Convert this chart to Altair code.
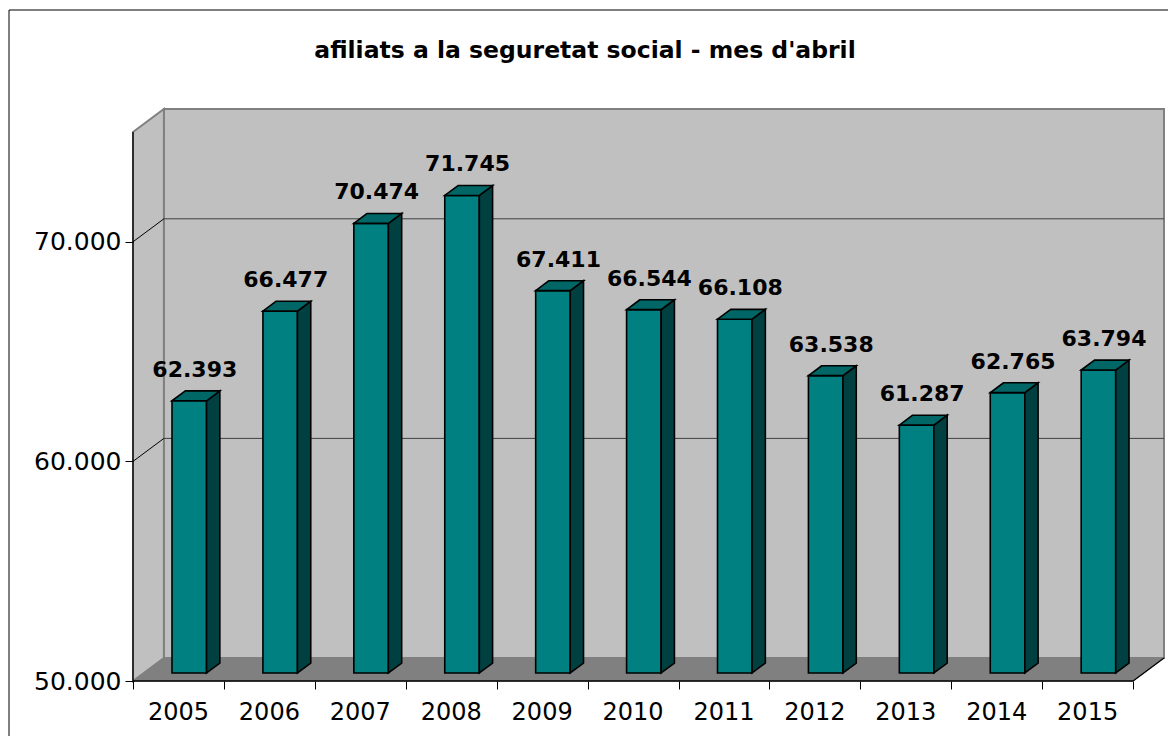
import altair as alt
import pandas as pd

# ---------------- data ----------------
years = ["2005", "2006", "2007", "2008", "2009", "2010", "2011", "2012", "2013", "2014", "2015"]
values = [62393, 66477, 70474, 71745, 67411, 66544, 66108, 63538, 61287, 62765, 63794]
y_tick_values = [50000, 60000, 70000]
grid_values = [60000, 70000]
title_text = "afiliats a la seguretat social - mes d'abril"

# ---------------- style / geometry constants ----------------
Y_MIN, Y_MAX = 50000, 75000
N = len(years)
DX, DY = 0.34, 1048          # depth of the 3-D box (category units, value units)
F, B = 0.35, 0.78            # depth fraction of bar front / back
HALF = 0.19                  # half bar width (category units)
FONT = "DejaVu Sans"

X_SCALE = alt.Scale(domain=[0, N + DX], nice=False, zero=False)
Y_SCALE = alt.Scale(domain=[Y_MIN, Y_MAX + DY], nice=False, zero=False)

bars = pd.DataFrame({"year": years, "value": values, "i": list(range(N))})

side_rows, top_rows = [], []
for yr, v, i in zip(years, values, range(N)):
    for k in (F, B):
        side_rows.append({"year": yr, "x": i + 0.5 + HALF + k * DX,
                          "y": v + k * DY, "y2": Y_MIN + k * DY})
        top_rows.append({"year": yr, "y": v + k * DY,
                         "x": i + 0.5 - HALF + k * DX, "x2": i + 0.5 + HALF + k * DX})
side_df = pd.DataFrame(side_rows)
top_df = pd.DataFrame(top_rows)

one = pd.DataFrame({"a": [0]})

# ---------------- frame ----------------
border_left = alt.Chart(one).mark_rule(color="black", strokeWidth=1).encode(
    x=alt.value(-124), y=alt.value(-99), y2=alt.value(700)
)
border_top = alt.Chart(one).mark_rule(color="black", strokeWidth=1).encode(
    x=alt.value(-124), x2=alt.value(1100), y=alt.value(-99)
)

back_wall = alt.Chart(pd.DataFrame({"x": [DX], "x2": [N + DX], "y": [Y_MIN + DY], "y2": [Y_MAX + DY]})).mark_rect(
    fill="#C0C0C0", stroke="#808080", strokeWidth=2
).encode(
    x=alt.X("x:Q", scale=X_SCALE, axis=None), x2="x2:Q",
    y=alt.Y("y:Q", scale=Y_SCALE, axis=None), y2="y2:Q",
)

side_wall = alt.Chart(pd.DataFrame({"x": [0, DX], "y": [Y_MAX, Y_MAX + DY], "y2": [Y_MIN, Y_MIN + DY]})).mark_area(
    fill="#C0C0C0", stroke="#808080", strokeWidth=2, orient="vertical"
).encode(
    x=alt.X("x:Q", scale=X_SCALE, axis=None),
    y=alt.Y("y:Q", scale=Y_SCALE, axis=None, stack=None), y2="y2:Q",
)

floor = alt.Chart(pd.DataFrame({"y": [Y_MIN, Y_MIN + DY], "x": [0, DX], "x2": [N, N + DX]})).mark_area(
    fill="#808080", stroke="#808080", strokeWidth=1, orient="horizontal"
).encode(
    y=alt.Y("y:Q", scale=Y_SCALE, axis=None),
    x=alt.X("x:Q", scale=X_SCALE, axis=None, stack=None), x2="x2:Q",
)

grid_diag = alt.Chart(pd.DataFrame({"v": grid_values})).transform_calculate(
    x0="0", x1=f"{DX}", y1=f"datum.v + {DY}"
).mark_rule(color="black", strokeWidth=1).encode(
    x=alt.X("x0:Q", scale=X_SCALE, axis=None), x2="x1:Q",
    y=alt.Y("v:Q", scale=Y_SCALE, axis=None), y2="y1:Q",
)

grid_back = alt.Chart(pd.DataFrame({"v": grid_values})).transform_calculate(
    x0=f"{DX}", x1=f"{N + DX}", y1=f"datum.v + {DY}"
).mark_rule(color="#404040", strokeWidth=1).encode(
    x=alt.X("x0:Q", scale=X_SCALE, axis=None), x2="x1:Q",
    y=alt.Y("y1:Q", scale=Y_SCALE, axis=None),
)

edges = alt.Chart(pd.DataFrame({
    "x": [0, 0, N], "x2": [0, N, N + DX],
    "y": [Y_MIN, Y_MIN, Y_MIN], "y2": [Y_MAX, Y_MIN, Y_MIN + DY],
})).mark_rule(color="black", strokeWidth=1.3).encode(
    x=alt.X("x:Q", scale=X_SCALE, axis=None), x2="x2:Q",
    y=alt.Y("y:Q", scale=Y_SCALE, axis=None), y2="y2:Q",
)

# ---------------- bars ----------------
front = alt.Chart(bars).transform_calculate(
    x0=f"datum.i + 0.5 - {HALF} + {F * DX}",
    x1=f"datum.i + 0.5 + {HALF} + {F * DX}",
    yb=f"{Y_MIN + F * DY}",
    yt=f"datum.value + {F * DY}",
).mark_rect(fill="#008080", stroke="black", strokeWidth=1.6, strokeJoin="miter").encode(
    x=alt.X("x0:Q", scale=X_SCALE, axis=alt.Axis(
        orient="bottom", values=list(range(N + 1)), labels=False, domain=False, grid=False,
        tickSize=8, tickColor="black", tickWidth=1, title=None, zindex=2)),
    x2="x1:Q",
    y=alt.Y("yb:Q", scale=Y_SCALE, axis=alt.Axis(
        orient="left", values=y_tick_values, domain=False, grid=False, tickSize=8,
        tickColor="black", tickWidth=1, labelFont=FONT, labelFontSize=25,
        labelColor="black", labelPadding=4, title=None, zindex=2,
        labelExpr="replace(format(datum.value, ','), ',', '.')")),
    y2="yt:Q",
)

side = alt.Chart(side_df).mark_area(
    fill="#004040", stroke="black", strokeWidth=1.6, strokeJoin="miter", orient="vertical"
).encode(
    x=alt.X("x:Q", scale=X_SCALE, axis=None),
    y=alt.Y("y:Q", scale=Y_SCALE, axis=None, stack=None), y2="y2:Q",
    detail="year:N",
)

top = alt.Chart(top_df).mark_area(
    fill="#006666", stroke="black", strokeWidth=1.6, strokeJoin="miter", orient="horizontal"
).encode(
    y=alt.Y("y:Q", scale=Y_SCALE, axis=None),
    x=alt.X("x:Q", scale=X_SCALE, axis=None, stack=None), x2="x2:Q",
    detail="year:N",
)

# ---------------- texts ----------------
value_labels = alt.Chart(bars).transform_calculate(
    lx="datum.i + 0.68",
    ly=f"datum.value + {F * DY}",
    label="replace(format(datum.value, ','), ',', '.')",
).mark_text(font=FONT, fontSize=22, fontWeight="bold", color="black",
            baseline="middle", align="center", dy=-31).encode(
    x=alt.X("lx:Q", scale=X_SCALE, axis=None),
    y=alt.Y("ly:Q", scale=Y_SCALE, axis=None),
    text="label:N",
)

year_labels = alt.Chart(bars).transform_calculate(
    lx="datum.i + 0.5", ly=f"{Y_MIN}"
).mark_text(font=FONT, fontSize=24, color="black", baseline="middle", align="center", dy=32).encode(
    x=alt.X("lx:Q", scale=X_SCALE, axis=None),
    y=alt.Y("ly:Q", scale=Y_SCALE, axis=None),
    text="year:N",
)

title = alt.Chart(one).mark_text(
    text=title_text, font=FONT, fontSize=23.5, fontWeight="bold", color="black",
    align="center", baseline="alphabetic"
).encode(x=alt.value(452), y=alt.value(-51))

chart = alt.layer(
    back_wall, side_wall, floor, grid_diag, grid_back, edges,
    front, side, top, value_labels, year_labels, title, border_left, border_top,
).resolve_axis(x="independent", y="independent").properties(
    width=1031, height=572,
    autosize=alt.AutoSizeParams(type="none"),
    padding={"left": 125, "top": 101, "right": 4, "bottom": 55},
).configure_view(stroke=None)

chart.save("out.html", embed_options={"renderer": "svg", "actions": False})
